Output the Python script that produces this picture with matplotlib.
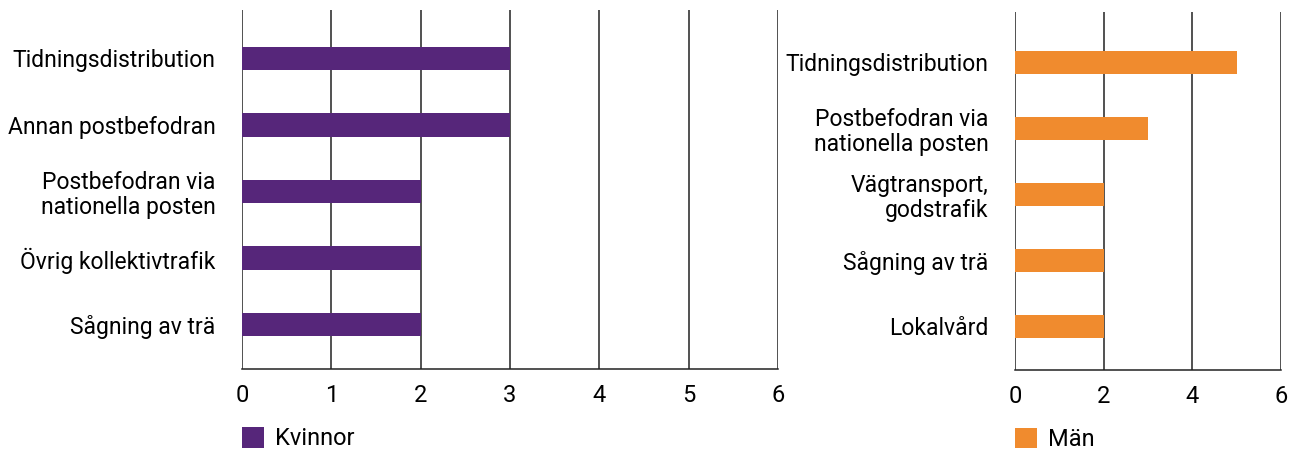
import numpy as np
import matplotlib
matplotlib.use("Agg")
import matplotlib.pyplot as plt

# data
kvinnor_labels = ["Tidningsdistribution", "Annan postbefodran",
                  "Postbefodran via\nnationella posten", "Övrig kollektivtrafik",
                  "Sågning av trä"]
kvinnor_values = [3, 3, 2, 2, 2]

man_labels = ["Tidningsdistribution", "Postbefodran via\nnationella posten",
              "Vägtransport,\ngodstrafik", "Sågning av trä", "Lokalvård"]
man_values = [5, 3, 2, 2, 2]

purple = "#56267A"
orange = "#F08B2E"

plt.rcParams['font.family'] = ['Roboto', 'DejaVu Sans']

fig = plt.figure(figsize=(12.89, 4.5), dpi=100)
ax1 = fig.add_axes([0.1877, 0.18, 0.4158, 0.798])
ax2 = fig.add_axes([0.7874, 0.178, 0.2064, 0.796])


def draw(ax, labels, values, color, ticks, name, ylim):
    y = np.arange(len(labels))
    ax.barh(y, values, height=0.35, color=color, label=name, zorder=3)
    ax.set_yticks(y)
    ax.set_yticklabels(labels, fontsize=16.5, linespacing=1.1)
    ax.set_ylim(*ylim)
    ax.set_xlim(0, 6)
    ax.set_xticks(ticks)
    ax.tick_params(axis='both', length=0)
    ax.tick_params(axis='y', pad=19)
    ax.tick_params(axis='x', pad=11, labelsize=17)
    for t in ticks:
        ax.axvline(t, color="#222222", lw=1.1, zorder=1)
    for s in ["top", "right", "left"]:
        ax.spines[s].set_visible(False)
    ax.spines["bottom"].set_color("#222222")
    ax.spines["bottom"].set_linewidth(1.1)
    ax.legend(loc="upper left", bbox_to_anchor=(0, -0.162), frameon=False,
              fontsize=17, handlelength=0.95, handleheight=0.95,
              borderpad=0, borderaxespad=0, handletextpad=0.45)


draw(ax1, kvinnor_labels, kvinnor_values, purple, [0, 1, 2, 3, 4, 5, 6],
     "Kvinnor", (4.67, -0.73))
draw(ax2, man_labels, man_values, orange, [0, 2, 4, 6], "Män", (4.66, -0.765))

fig.savefig("out.png", dpi=100)
